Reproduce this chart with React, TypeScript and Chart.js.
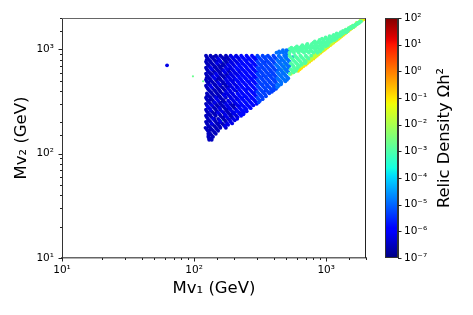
import React, { useEffect, useRef } from "react";
import { Chart, registerables } from "chart.js";

Chart.register(...registerables);

// Each row: [Mv2, Mv1, Mv1, ...] in GeV, grouped by relic-density band.
const navyRows = [
  [870,123,133,146,158,174],[814,127,139,167,181],[762,123,133,146,174],[713,127,139,152,167],
  [667,123,146,158],[624,127,139,152,181],[584,123,133,158,174],[547,127,152,167],
  [512,123,133,146,158],[479,127,139,167],[448,123,146,158,174],[419,127,139,152,167],
  [392,133,146,158],[367,127,139,152,181],[344,123,133,158,174],[322,127,139,167],
  [301,123,133,146,158,189],[282,139,152,167,198],[264,123,146,158,174],[247,127,139,167,181,218],
  [231,123,133,146,158,189,208],[216,127,152,167,181],[202,123,133,146,174],[189,127,139,152,167],
  [177,122,133,146,158,174],[166,127,139,152],[155,128,133,146],[145,128,139],[136,130,136],
  [842,125,136,149,163,178],[788,130,143,171,186],[737,125,136,163,178],[690,130,143,156,171],[645,125,149,163],
  [604,130,143,156,186],[565,125,136,163,178],[529,130,156,171],[495,125,136,149,163],[463,130,143,171],
  [433,125,149,163,178],[405,130,143,156,171],[379,125,136,149,163],[355,130,143,156],[333,125,136,163],
  [311,130,156,171],[291,125,149,163,194],[273,130,143,171,203],[255,125,136,149,178],[239,130,143,156,186],
  [223,125,136,163,194],[209,130,143,171],[195,125,149,163],[183,130,143,156],[171,125,136,149],[160,130,143],
  [150,129,136],[140,130,135],
];
const royalRows = [
  [870,189,208],[814,152,198,218],[762,158,189,208],[713,181,198],[667,133,174,189],[624,167,198,218],
  [584,146,189,208],[547,139,181,198],[512,174,189],[479,152,181,198],[448,133,189,208],[419,181,198],
  [392,174,189],[367,167,198],[344,146,189,208],[322,152,181,198],[301,174,208],[282,127,181,218],
  [264,133,189,208],[247,152,198],[231,174],[216,139,198,212],[202,158,189],[189,181],[703,62.4],
  [842,194,213],[788,156,203,222],[737,149,194,213],[690,186,203],[645,136,178,194],[604,171,203,222],
  [565,149,194,213],[529,143,186,203],[495,178,194,213],[463,156,186,203],[433,136,194,213],[405,186,203],
  [379,178,194],[355,171,186,203],[333,149,194,213],[311,143,186,203],[291,136,178,213],[273,156,186],
  [255,163,194],[239,171,203],[223,178,213],[209,156,186,203],[195,136,178,194],[183,171],
];
const blueRows = [
  [870,227,249,274],[814,238,261,288],[762,227,249,274],[713,218,238,261,288],[667,208,227,249,274],
  [624,238,261,288],[584,227,249,274],[547,218,238,261,288],[512,208,227,249,274],[479,218,238,261,288],
  [448,227,249,274],[419,218,238,261,288],[392,227,249,274],[367,218,238,261,288],[344,227,249,274],
  [322,218,238,261,288],[301,227,249,274,298],[282,238,261],[264,227,249],[247,238],[231,227],
  [842,232,255,281],[788,244,268,295],[737,232,255,281],[690,222,244,268,295],[645,213,232,255,281],
  [604,244,268,295],[565,232,255,281],[529,222,244,268,295],[495,232,255,281],[463,222,244,268,295],
  [433,232,255,281],[405,222,244,268,295],[379,213,232,255,281],[355,222,244,268,295],[333,232,255,281],
  [311,222,244,268,295],[291,232,255,281],[273,222,244,268],[255,213,232,250],[239,222,236],
];
const midRows = [
  [870,301,330,362,398],[814,315,346,380,417],[762,301,330,362,398],[713,315,346,380],[667,301,330,362,398],
  [624,315,346,380,417],[584,301,330,362,398],[547,315,346,380,417],[512,301,330,362,398],
  [479,315,346,380,417],[448,301,330,362,398],[419,315,346,380,417],[392,301,330,362,388],
  [367,315,346],[344,301,330],[322,315],
  [842,308,338,371,407],[788,323,354,389],[737,308,338,371,407],[690,323,354,389],[645,308,338,371,407],
  [604,323,354,389],[565,308,338,371,407],[529,323,354,389],[495,308,338,371,407],[463,323,354,389],
  [433,308,338,371,407],[405,323,354,389,400],[379,308,338,371],[355,323,350],[333,308,330],[311,308],
];
const azureRows = [
  [930,420,445,470,495],[985,470,500,520],[870,437,480,500],[814,458,503],[762,437,480,527],
  [713,417,458,503],[667,437,480,520],[624,458,503],[584,437,480],[547,458,503],[512,437,480,505],
  [479,458],[448,437],
  [842,448,491],[788,428,469,516],[737,448,491],[690,428,469,516],[645,448,491],[604,428,469,516],
  [565,448,491],[529,428,469,516],[495,448,491],[463,428,455],[433,425],[958,440,470,500,530],
];
const seaRows = [
  [1040,545,585,630,680,735,790,850,920],[985,545,590,640,700,760,830,900],[930,527,570,620,680,740,800,860],
  [870,527,580,637,700,769],[814,553,608,668,734],[762,580,637,700],[713,553,608,650],[667,570,610],
  [624,553,590],[584,530],[1100,660,710,770,830,900,960,1030],[1160,800,860,920,990,1050],
  [1230,890,950,1020,1090,1150],[1300,990,1060,1130,1210],[1380,1140,1220,1300],[1460,1290,1360,1420],
  [1550,1410,1480],[1640,1540,1600],[1740,1670,1710],[1850,1800,1830],
  [842,540,594,652,717],[788,566,623,684],[737,540,594,652,690],[690,566,623],[645,540,594],[604,566],
  [958,560,610,660,720,780,840,900],[1012,530,565,610,660,710,760,820,880,940],
  [1070,600,650,700,750,810,870,930,990],[1130,720,780,840,900,960,1020],[1195,820,880,950,1020,1090],
  [1265,930,1000,1060,1130,1190],[1340,1060,1120,1190,1260],[1420,1200,1270,1340],[1505,1340,1400,1450],
  [1595,1480,1540],[1690,1600,1650],[1795,1730,1770],
];
const limeRows = [
  [584,540],[624,570],[667,606],[713,650,668],[762,690,720],[814,734,770],[870,790,830],[930,840,880],
  [985,890,935],[1040,940,990],[1100,990,1045],[1160,1050,1110],[1230,1110,1170],[1300,1180,1240],
  [1380,1240,1310],[1460,1330,1390],[1550,1410,1470],[1640,1540,1590],
  [604,565],[645,600],[690,640],[737,680,700],[788,720,745],[842,770,800],[900,820,860],[958,870,910],
  [1012,920,960],[1070,970,1020],[1130,1030,1080],[1195,1090,1140],[1265,1150,1210],[1340,1220,1280],
  [1420,1300,1360],[1505,1390,1440],[1595,1490,1540],[1690,1590,1640],[1795,1700,1750],[1900,1820,1860],
];
const yellowRows = [
  [624,612],[667,650],[713,700],[762,745],[814,800],[870,850],[930,905],[985,960],[1040,1015],[1100,1075],
  [1160,1130],[1230,1200],[1300,1270],[1380,1345],[1460,1420],[1550,1510],[1640,1610],[1740,1700],
  [1850,1810],[1950,1925,1945],
  [645,630],[690,672],[737,718],[788,768],[842,820],[900,875],[958,930],[1012,985],[1070,1040],[1130,1100],
  [1195,1165],[1265,1235],[1340,1305],[1420,1385],[1505,1465],[1595,1555],[1690,1650],[1795,1755],[1900,1860],
];
// Irregular points laid over the bands: these break up the rows.
const looseAzureRows = [
  [860,352],[825,410],[795,297],[770,448],[742,368],[716,322],[692,482],[668,395],[648,340],[628,430],
  [606,305],[588,468],[570,385],[552,350],[534,415],[516,300],[498,452],[482,372],[466,330],[451,405],
  [436,355],[420,395],[403,325],[392,372],[760,520],[700,530],[640,500],[600,520],[850,560],[900,520],
];
const looseSeaRows = [[730,480],[650,470],[690,500],[800,490],[610,490]];
const looseBlueRows = [
  [857,205],[833,292],[806,256],[780,175],[755,343],[728,232],[705,270],[680,158],[658,311],[637,217],
  [615,378],[596,245],[576,190],[558,332],[541,283],[525,225],[507,410],[490,262],[474,178],[459,356],
  [444,302],[429,210],[414,250],[401,345],[388,288],[376,197],[364,320],[352,238],[340,272],[329,210],
  [318,290],[308,168],[298,252],[288,220],[279,265],[270,185],[261,238],[252,205],[244,225],[236,192],
];
const looseInkRows = [
  [855,141],[830,172],[800,124],[775,150],[748,193],[722,128],[700,163],[676,142],[652,185],[633,126],
  [610,158],[590,205],[572,137],[555,178],[538,124],[520,150],[503,198],[487,129],[470,165],[456,143],
  [441,183],[425,127],[411,155],[398,209],[385,136],[373,172],[361,125],[349,149],[338,190],[327,131],
  [316,164],[306,141],[296,201],[286,126],[277,157],[268,178],[259,133],[250,148],[243,195],[235,129],
  [227,168],[219,142],[212,187],[205,127],[198,155],[192,136],[186,172],[180,128],[174,148],[168,131],
];
// Sparse bright points scattered over the blue body.
const speckRows = [
  [751,166],[505,187],[209,163],[690,220],[673,363],[589,327],[311,251],[605,507],[552,98],[495,117],
];

const bandRows = [seaRows, limeRows, yellowRows, azureRows, midRows, blueRows, royalRows, navyRows,
  looseSeaRows, looseAzureRows, looseBlueRows, looseInkRows, speckRows];
const bandOmega = [1.1e-3, 1.6e-2, 1.1e-1, 1.3e-5, 5e-6, 1.5e-6, 6.5e-7, 3e-7, 1.1e-3, 1.3e-5, 3e-6, 2e-7, 2e-3];
const omegaRange = [1e-7, 1e2];
const xRange = [10, 2000];
const yRange = [10, 2000];
const FONT = "'DejaVu Sans'";

const ramp = (t: number, pts: number[][]) => {
  for (let i = 1; i < pts.length; i++) {
    if (t <= pts[i][0]) {
      const [a, av] = pts[i - 1];
      const [b, bv] = pts[i];
      return av + ((bv - av) * (t - a)) / (b - a);
    }
  }
  return pts[pts.length - 1][1];
};
const jet = (t: number) => {
  const r = ramp(t, [[0, 0], [0.35, 0], [0.66, 1], [0.89, 1], [1, 0.5]]);
  const g = ramp(t, [[0, 0], [0.125, 0], [0.375, 1], [0.64, 1], [0.91, 0], [1, 0]]);
  const b = ramp(t, [[0, 0.5], [0.11, 1], [0.34, 1], [0.65, 0], [1, 0]]);
  return `rgb(${Math.round(r * 255)},${Math.round(g * 255)},${Math.round(b * 255)})`;
};
const omegaColor = (w: number) =>
  jet((Math.log10(w) - Math.log10(omegaRange[0])) / (Math.log10(omegaRange[1]) - Math.log10(omegaRange[0])));

const SUP: Record<string, string> = { "-": "⁻", "0": "⁰", "1": "¹", "2": "²", "3": "³", "4": "⁴", "5": "⁵", "6": "⁶", "7": "⁷", "8": "⁸", "9": "⁹" };
const isPow = (v: number) => Math.abs(Math.log10(v) - Math.round(Math.log10(v))) < 1e-6;
const powLabel = (v: any) =>
  isPow(Number(v)) ? "10" + String(Math.round(Math.log10(Number(v)))).split("").map((c) => SUP[c]).join("") : "";

const tickPlugin = {
  id: "ticksFrame",
  afterDraw(chart: any) {
    const { ctx, chartArea: a, scales } = chart;
    ctx.save();
    ctx.strokeStyle = "#222";
    ctx.lineWidth = 1;
    const mark = (x1: number, y1: number, x2: number, y2: number) => {
      ctx.beginPath(); ctx.moveTo(x1, y1); ctx.lineTo(x2, y2); ctx.stroke();
    };
    if (scales.x.options.display) {
      scales.x.ticks.forEach((t: any) => {
        const p = Math.round(scales.x.getPixelForValue(t.value)) + 0.5;
        mark(p, a.bottom, p, a.bottom + (isPow(t.value) ? 3.5 : 2));
      });
      scales.y.ticks.forEach((t: any) => {
        const p = Math.round(scales.y.getPixelForValue(t.value)) + 0.5;
        mark(a.left, p, a.left - (isPow(t.value) ? 3.5 : 2), p);
      });
    } else {
      scales.y.ticks.forEach((t: any) => {
        if (!isPow(t.value)) return;
        const p = Math.round(scales.y.getPixelForValue(t.value)) + 0.5;
        mark(a.right, p, a.right + 3.5, p);
      });
      ctx.fillStyle = "#000";
      ctx.font = `16.3px ${FONT}`;
      ctx.textAlign = "center";
      ctx.textBaseline = "middle";
      ctx.translate(445, (a.top + a.bottom) / 2);
      ctx.rotate(-Math.PI / 2);
      ctx.fillText("Relic Density Ωh²", 0, 0);
    }
    ctx.restore();
  },
};

export default function App() {
  const mainRef = useRef<HTMLCanvasElement>(null);
  const barRef = useRef<HTMLCanvasElement>(null);

  useEffect(() => {
    document.body.style.margin = "0";
    const datasets = bandRows.map((rows, i) => ({
      label: `Omega ${bandOmega[i]}`,
      data: rows.flatMap(([mv2, ...mv1s]) => mv1s.map((x) => ({ x, y: mv2 }))),
      backgroundColor: omegaColor(bandOmega[i]),
      borderWidth: 0,
      pointRadius: i === 12 ? 1.1 : i >= 8 ? 1.6 : 1.9,
    }));
    const main = new Chart(mainRef.current!, {
      type: "scatter",
      data: { datasets },
      plugins: [tickPlugin],
      options: {
        responsive: false,
        animation: false,
        layout: { padding: { left: 0, right: 107, top: 18, bottom: 0 } },
        plugins: { legend: { display: false }, tooltip: { enabled: false } },
        scales: {
          x: {
            type: "logarithmic",
            min: xRange[0],
            max: xRange[1],
            afterFit: (s: any) => { s.height = 57; },
            grid: { display: false, drawTicks: false },
            border: { color: "#666", width: 1.5 },
            ticks: { autoSkip: false, maxRotation: 0, padding: 6, color: "#000", font: { family: FONT, size: 10.5 }, callback: powLabel },
            title: { display: true, text: "Mv₁ (GeV)", color: "#000", font: { family: FONT, size: 16.5 }, padding: { top: 0, bottom: 16 } },
          },
          y: {
            type: "logarithmic",
            min: yRange[0],
            max: yRange[1],
            afterFit: (s: any) => { s.width = 62; },
            grid: { display: false, drawTicks: false },
            border: { color: "#333", width: 1 },
            ticks: { autoSkip: false, padding: 8, color: "#000", font: { family: FONT, size: 10.5 }, callback: powLabel },
            title: { display: true, text: "Mv₂ (GeV)", color: "#000", font: { family: FONT, size: 16.5 }, padding: { top: 12, bottom: 0 } },
          },
        },
      },
    } as any);

    const bar = new Chart(barRef.current!, {
      type: "bar",
      data: {
        labels: ["Omega"],
        datasets: [{
          data: [omegaRange as any],
          barPercentage: 1,
          categoryPercentage: 1,
          backgroundColor: (c: any) => {
            const a = c.chart.chartArea;
            if (!a) return "#000";
            const g = c.chart.ctx.createLinearGradient(0, a.bottom, 0, a.top);
            for (let i = 0; i <= 64; i++) g.addColorStop(i / 64, jet(i / 64));
            return g;
          },
        }],
      },
      plugins: [tickPlugin],
      options: {
        responsive: false,
        animation: false,
        layout: { padding: { left: 385, right: 0, top: 18, bottom: 57 } },
        plugins: { legend: { display: false }, tooltip: { enabled: false } },
        scales: {
          x: { display: false },
          y: {
            type: "logarithmic",
            position: "right",
            min: omegaRange[0],
            max: omegaRange[1],
            afterFit: (s: any) => { s.width = 75; },
            grid: { display: false, drawTicks: false },
            border: { color: "#333", width: 1 },
            ticks: { autoSkip: false, padding: 6, color: "#000", font: { family: FONT, size: 10.5 }, callback: powLabel },
          },
        },
      },
    } as any);
    return () => { main.destroy(); bar.destroy(); };
  }, []);

  return (
    <div style={{ position: "relative", width: 473, height: 315 }}>
      <canvas ref={mainRef} width={473} height={315} style={{ position: "absolute", left: 0, top: 0 }} />
      <canvas ref={barRef} width={473} height={315} style={{ position: "absolute", left: 0, top: 0 }} />
      <div style={{ position: "absolute", left: 62, top: 18, width: 304, height: 240, boxSizing: "border-box", borderTop: "1px solid #666", borderRight: "1px solid #222", pointerEvents: "none" }} />
      <div style={{ position: "absolute", left: 385, top: 18, width: 13, height: 240, boxSizing: "border-box", border: "1px solid #333", pointerEvents: "none" }} />
    </div>
  );
}
